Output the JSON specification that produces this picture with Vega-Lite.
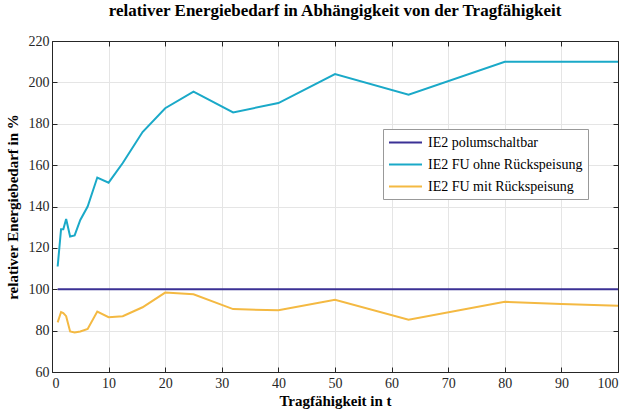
{
  "$schema": "https://vega.github.io/schema/vega-lite/v6.json",
  "width": 566,
  "height": 331,
  "autosize": {"type": "none"},
  "padding": {"left": 52, "top": 41, "right": 9, "bottom": 38},
  "background": "white",
  "title": {
    "text": "relativer Energiebedarf in Abhängigkeit von der Tragfähigkeit",
    "font": "Liberation Serif",
    "fontSize": 17,
    "fontWeight": "bold",
    "color": "#000000",
    "anchor": "middle",
    "offset": 14
  },
  "config": {
    "view": {"stroke": "#262626", "strokeWidth": 1},
    "axis": {
      "labelFont": "Liberation Serif",
      "labelFontSize": 14,
      "labelColor": "#262626",
      "titleFont": "Liberation Serif",
      "titleFontSize": 15,
      "titleFontWeight": "bold",
      "titleColor": "#000000",
      "domainColor": "#262626",
      "tickColor": "#262626",
      "gridColor": "#e5e5e5",
      "gridOpacity": 1,
      "tickSize": -5
    }
  },
  "data": {
    "values": [
      {"t": 1, "v": 100, "s": "IE2 polumschaltbar"},
      {"t": 100, "v": 100, "s": "IE2 polumschaltbar"},
      {"t": 1, "v": 111, "s": "IE2 FU ohne Rückspeisung"},
      {"t": 1.6, "v": 129, "s": "IE2 FU ohne Rückspeisung"},
      {"t": 2, "v": 129, "s": "IE2 FU ohne Rückspeisung"},
      {"t": 2.5, "v": 134, "s": "IE2 FU ohne Rückspeisung"},
      {"t": 3.2, "v": 125.5, "s": "IE2 FU ohne Rückspeisung"},
      {"t": 4, "v": 126, "s": "IE2 FU ohne Rückspeisung"},
      {"t": 5, "v": 133.5, "s": "IE2 FU ohne Rückspeisung"},
      {"t": 6.3, "v": 140, "s": "IE2 FU ohne Rückspeisung"},
      {"t": 8, "v": 154, "s": "IE2 FU ohne Rückspeisung"},
      {"t": 10, "v": 151.5, "s": "IE2 FU ohne Rückspeisung"},
      {"t": 12.5, "v": 161, "s": "IE2 FU ohne Rückspeisung"},
      {"t": 16, "v": 176, "s": "IE2 FU ohne Rückspeisung"},
      {"t": 20, "v": 187.5, "s": "IE2 FU ohne Rückspeisung"},
      {"t": 25, "v": 195.5, "s": "IE2 FU ohne Rückspeisung"},
      {"t": 32, "v": 185.5, "s": "IE2 FU ohne Rückspeisung"},
      {"t": 40, "v": 190, "s": "IE2 FU ohne Rückspeisung"},
      {"t": 50, "v": 204, "s": "IE2 FU ohne Rückspeisung"},
      {"t": 63, "v": 194, "s": "IE2 FU ohne Rückspeisung"},
      {"t": 80, "v": 210, "s": "IE2 FU ohne Rückspeisung"},
      {"t": 100, "v": 210, "s": "IE2 FU ohne Rückspeisung"},
      {"t": 1, "v": 84, "s": "IE2 FU mit Rückspeisung"},
      {"t": 1.6, "v": 89, "s": "IE2 FU mit Rückspeisung"},
      {"t": 2, "v": 88.5, "s": "IE2 FU mit Rückspeisung"},
      {"t": 2.5, "v": 87, "s": "IE2 FU mit Rückspeisung"},
      {"t": 3.2, "v": 79.6, "s": "IE2 FU mit Rückspeisung"},
      {"t": 4, "v": 79.1, "s": "IE2 FU mit Rückspeisung"},
      {"t": 5, "v": 79.6, "s": "IE2 FU mit Rückspeisung"},
      {"t": 6.3, "v": 80.8, "s": "IE2 FU mit Rückspeisung"},
      {"t": 8, "v": 89.2, "s": "IE2 FU mit Rückspeisung"},
      {"t": 10, "v": 86.5, "s": "IE2 FU mit Rückspeisung"},
      {"t": 12.5, "v": 87, "s": "IE2 FU mit Rückspeisung"},
      {"t": 16, "v": 91.3, "s": "IE2 FU mit Rückspeisung"},
      {"t": 20, "v": 98.4, "s": "IE2 FU mit Rückspeisung"},
      {"t": 25, "v": 97.6, "s": "IE2 FU mit Rückspeisung"},
      {"t": 32, "v": 90.4, "s": "IE2 FU mit Rückspeisung"},
      {"t": 40, "v": 89.8, "s": "IE2 FU mit Rückspeisung"},
      {"t": 50, "v": 94.9, "s": "IE2 FU mit Rückspeisung"},
      {"t": 63, "v": 85.3, "s": "IE2 FU mit Rückspeisung"},
      {"t": 80, "v": 93.9, "s": "IE2 FU mit Rückspeisung"},
      {"t": 90, "v": 92.9, "s": "IE2 FU mit Rückspeisung"},
      {"t": 100, "v": 92, "s": "IE2 FU mit Rückspeisung"}
    ]
  },
  "layer": [
    {
      "mark": {"type": "line", "strokeWidth": 2, "clip": true},
      "encoding": {
        "x": {
          "field": "t", "type": "quantitative",
          "scale": {"domain": [0, 100], "nice": false},
          "axis": {"title": "Tragfähigkeit in t", "values": [0,10,20,30,40,50,60,70,80,90,100], "grid": true, "labelPadding": 9, "titlePadding": 3}
        },
        "y": {
          "field": "v", "type": "quantitative",
          "scale": {"domain": [60, 220], "nice": false, "zero": false},
          "axis": {"title": "relativer Energiebedarf in %", "values": [60,80,100,120,140,160,180,200,220], "grid": true, "labelPadding": 8, "titlePadding": 8}
        },
        "color": {
          "field": "s", "type": "nominal",
          "scale": {
            "domain": ["IE2 polumschaltbar", "IE2 FU ohne Rückspeisung", "IE2 FU mit Rückspeisung"],
            "range": ["#3b3195", "#1aa9c8", "#f4b942"]
          },
          "sort": ["IE2 polumschaltbar", "IE2 FU ohne Rückspeisung", "IE2 FU mit Rückspeisung"],
          "legend": {
            "title": null,
            "orient": "none",
            "legendX": 331,
            "legendY": 88,
            "symbolType": "M-2.2,0H2.2",
            "symbolSize": 225,
            "symbolStrokeWidth": 2,
            "symbolOffset": 9,
            "labelFont": "Liberation Serif",
            "labelFontSize": 14,
            "labelColor": "#000000",
            "fillColor": "white",
            "strokeColor": "#999999",
            "padding": 5,
            "rowPadding": 6,
            "labelOffset": 14
          }
        }
      }
    },
    {
      "mark": {"type": "line", "opacity": 0},
      "encoding": {
        "x": {
          "field": "t", "type": "quantitative",
          "axis": {"orient": "top", "title": null, "labels": false, "grid": false, "values": [0,10,20,30,40,50,60,70,80,90,100]}
        },
        "y": {
          "field": "v", "type": "quantitative",
          "axis": {"orient": "right", "title": null, "labels": false, "grid": false, "values": [60,80,100,120,140,160,180,200,220]}
        }
      }
    }
  ],
  "resolve": {"axis": {"x": "independent", "y": "independent"}}
}
